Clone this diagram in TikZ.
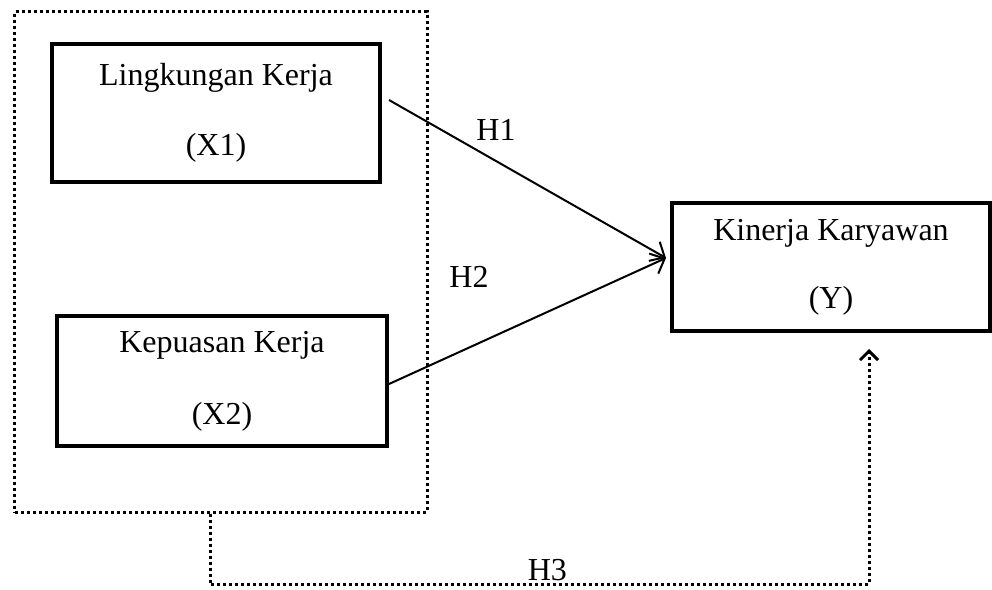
\documentclass[tikz,border=0pt]{standalone}
\usepackage{fontspec}
\setmainfont{Liberation Serif}
\usetikzlibrary{arrows.meta}

\tikzset{
  varbox/.style={draw,line width=2bp,align=center,inner sep=0pt,
    font=\fontsize{16bp}{19bp}\selectfont},
  groupbox/.style={draw,line width=1.5bp,dash pattern=on 1.5bp off 1.5bp,
    inner sep=0pt,minimum width=206bp,minimum height=250bp},
  dotline/.style={line width=1.5bp,dash pattern=on 1.5bp off 1.5bp},
  hyp/.style={line width=1bp,-{Straight Barb[length=6bp,width=11bp]}},
  hlabel/.style={inner sep=0pt,font=\fontsize{16bp}{19bp}\selectfont}
}

\begin{document}
\begin{tikzpicture}[x=0.5bp,y=-0.5bp]
\useasboundingbox[fill=white] (0,0) rectangle (992,590);
% variables
\node[groupbox] (grp) at (221,262) {};
\node[varbox,minimum width=164bp,minimum height=69bp] (x1) at (216,113)
  {Lingkungan Kerja\\[16bp](X1)};
\node[varbox,minimum width=165bp,minimum height=65bp] (x2) at (222,381)
  {Kepuasan Kerja\\[17bp](X2)};
\node[varbox,minimum width=159bp,minimum height=64bp] (y) at (831,267)
  {Kinerja Karyawan\\[15bp](Y)};
% hypotheses
\draw[hyp] ([xshift=3.5bp,yshift=6.5bp]x1.east) -- ([xshift=-2bp,yshift=4.5bp]y.west);
\draw[hyp] ([yshift=-1.5bp]x2.east) -- ([xshift=-2bp,yshift=4.5bp]y.west);
\node[hlabel] (h1) at (496,130) {H1};
\node[hlabel] (h2) at (469,277) {H2};
\draw[dotline,-{Straight Barb[length=4.5bp,width=9bp,line width=1.5bp]}] ([xshift=-5.5bp]grp.south)
  -- ++(0,71) -| ([xshift=19bp,yshift=-8bp]y.south)
  node[pos=0.256,above,hlabel,yshift=1bp] (h3) {H3};
\end{tikzpicture}
\end{document}
